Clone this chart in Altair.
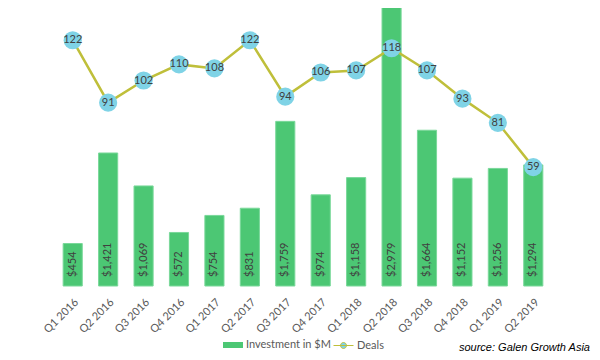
import altair as alt
import pandas as pd

quarters = ["Q1 2016", "Q2 2016", "Q3 2016", "Q4 2016", "Q1 2017", "Q2 2017", "Q3 2017",
            "Q4 2017", "Q1 2018", "Q2 2018", "Q3 2018", "Q4 2018", "Q1 2019", "Q2 2019"]
investment = [454, 1421, 1069, 572, 754, 831, 1759, 974, 1158, 2979, 1664, 1152, 1256, 1294]
deals = [122, 91, 102, 110, 108, 122, 94, 106, 107, 118, 107, 93, 81, 59]

df = pd.DataFrame({
    "quarter": quarters,
    "investment": investment,
    "deals": deals,
    "bar_series": ["Investment in $M"] * len(quarters),
    "line_series": ["Deals"] * len(quarters),
})

FONT = "Lato"
GREEN = "#4cc774"
BLUE = "#7fd3e6"
OLIVE = "#bfbf3a"

x = alt.X("quarter:N", sort=quarters,
          scale=alt.Scale(paddingInner=0.46, paddingOuter=0.23),
          axis=alt.Axis(title=None, labelAngle=-45, domain=False, ticks=False,
                        labelFont=FONT, labelFontSize=11, labelColor="#595959",
                        labelPadding=10))

ybar = alt.Scale(domain=[0, 2970])
yline = alt.Scale(domain=[0, 138])

base = alt.Chart(df)

bars = base.mark_bar(stroke="#7ad89a", strokeWidth=1).encode(
    x=x,
    y=alt.Y("investment:Q", scale=ybar, axis=None),
    color=alt.Color("bar_series:N",
                    scale=alt.Scale(domain=["Investment in $M"], range=[GREEN]),
                    legend=alt.Legend(orient="none", legendX=168, legendY=327, title=None,
                                      symbolType="M-1,-0.3H1V0.3H-1Z", symbolSize=400,
                                      symbolStrokeWidth=0, labelFont=FONT, labelFontSize=11,
                                      labelColor="#595959", labelOffset=3)),
)

bar_labels = base.mark_text(angle=270, align="left", baseline="middle", dx=9,
                            font=FONT, fontSize=11, color="#404040").encode(
    x=x,
    y=alt.Y(datum=0, scale=ybar, axis=None),
    text=alt.Text("investment:Q", format="$,.0f"),
)

line = base.mark_line(strokeWidth=2.5).encode(
    x=x,
    y=alt.Y("deals:Q", scale=yline, axis=None),
    stroke=alt.Stroke("line_series:N",
                      scale=alt.Scale(domain=["Deals"], range=[OLIVE]),
                      legend=alt.Legend(orient="none", legendX=278, legendY=327, title=None,
                                        symbolType="M-1,0H1M-0.3,0A0.3,0.3,0,1,1,0.3,0A0.3,0.3,0,1,1,-0.3,0",
                                        symbolSize=400, symbolFillColor=BLUE,
                                        symbolStrokeColor=OLIVE, symbolStrokeWidth=1,
                                        labelFont=FONT, labelFontSize=11,
                                        labelColor="#595959", labelOffset=3)),
)

points = base.mark_circle(size=330, color=BLUE, opacity=1).encode(
    x=x,
    y=alt.Y("deals:Q", scale=yline, axis=None),
)

point_labels = base.mark_text(align="center", baseline="middle", font=FONT,
                              fontSize=11, color="#404040").encode(
    x=x,
    y=alt.Y("deals:Q", scale=yline, axis=None),
    text="deals:Q",
)

chart = alt.layer(bars, bar_labels, line, points, point_labels).resolve_scale(
    y="independent"
).properties(
    width=496, height=278,
    autosize=alt.AutoSizeParams(type="none"),
    padding={"left": 47, "top": 0, "right": 41, "bottom": 66},
    title=alt.TitleParams("source: Galen Growth Asia", orient="bottom", anchor="end",
                          font="Liberation Sans", fontStyle="italic", fontWeight="normal",
                          fontSize=11, color="#000000", dx=39, offset=-9),
).configure_view(stroke=None)

chart.save("out.html", embed_options={"renderer": "svg", "actions": False})
